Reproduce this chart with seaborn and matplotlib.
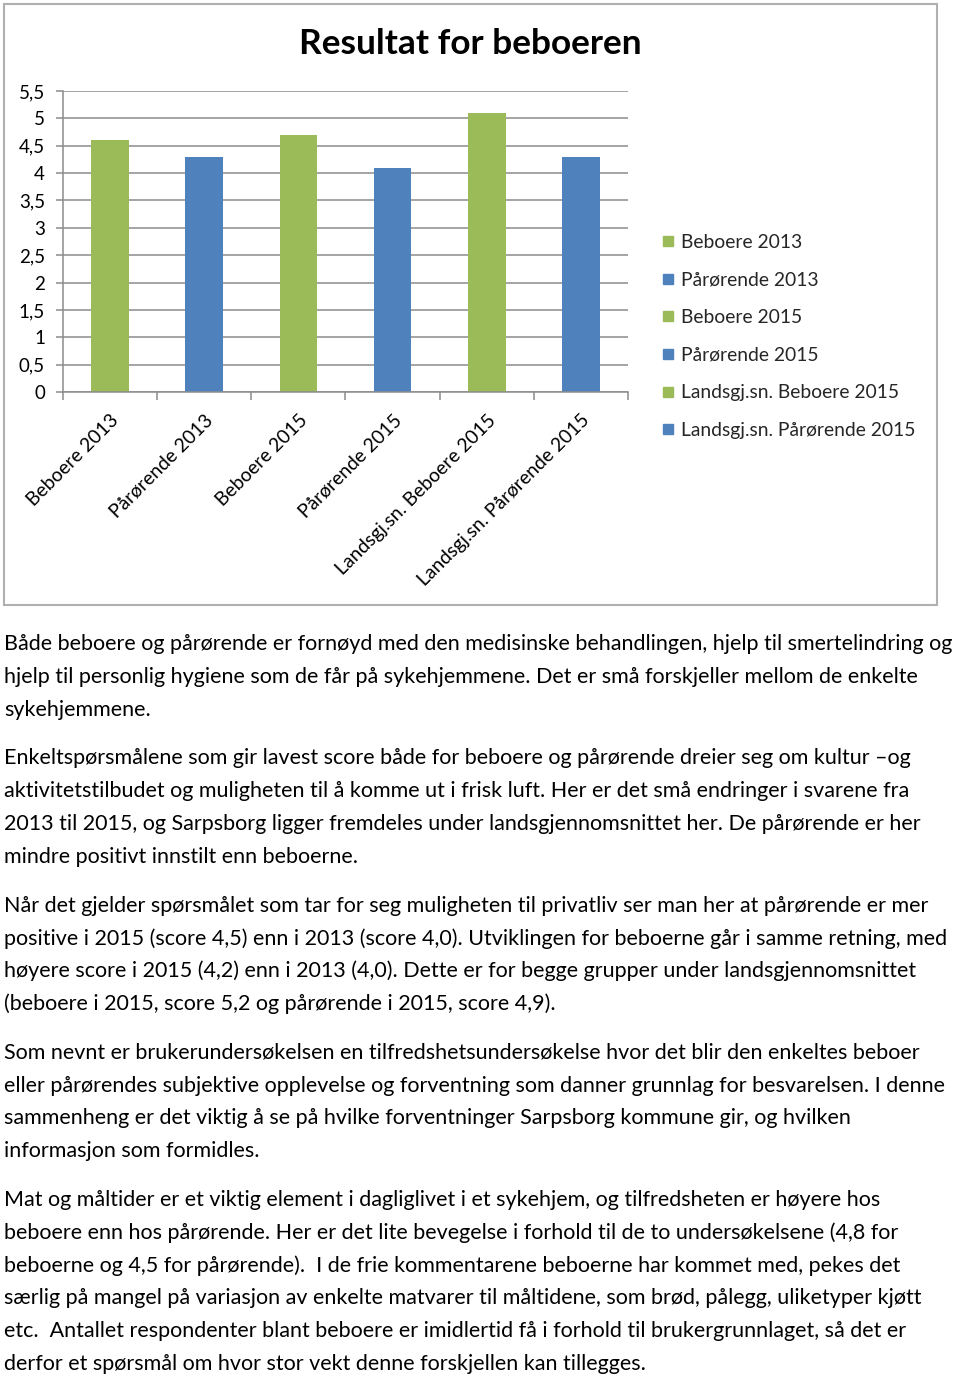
import matplotlib
matplotlib.use("Agg")
import matplotlib.pyplot as plt
import seaborn as sns
import pandas as pd
from matplotlib.patches import Rectangle
from matplotlib.lines import Line2D

categories = ["Beboere 2013", "Pårørende 2013", "Beboere 2015", "Pårørende 2015",
              "Landsgj.sn. Beboere 2015", "Landsgj.sn. Pårørende 2015"]
values = [4.6, 4.3, 4.7, 4.1, 5.1, 4.3]
colors = ["#9BBB59", "#4F81BD", "#9BBB59", "#4F81BD", "#9BBB59", "#4F81BD"]
yticks = [0, 0.5, 1, 1.5, 2, 2.5, 3, 3.5, 4, 4.5, 5, 5.5]
ytick_labels = ["0", "0,5", "1", "1,5", "2", "2,5", "3", "3,5", "4", "4,5", "5", "5,5"]
title = "Resultat for beboeren"

paragraphs = [
    ["Både beboere og pårørende er fornøyd med den medisinske behandlingen, hjelp til smertelindring og",
     "hjelp til personlig hygiene som de får på sykehjemmene. Det er små forskjeller mellom de enkelte",
     "sykehjemmene."],
    ["Enkeltspørsmålene som gir lavest score både for beboere og pårørende dreier seg om kultur –og",
     "aktivitetstilbudet og muligheten til å komme ut i frisk luft. Her er det små endringer i svarene fra",
     "2013 til 2015, og Sarpsborg ligger fremdeles under landsgjennomsnittet her. De pårørende er her",
     "mindre positivt innstilt enn beboerne."],
    ["Når det gjelder spørsmålet som tar for seg muligheten til privatliv ser man her at pårørende er mer",
     "positive i 2015 (score 4,5) enn i 2013 (score 4,0). Utviklingen for beboerne går i samme retning, med",
     "høyere score i 2015 (4,2) enn i 2013 (4,0). Dette er for begge grupper under landsgjennomsnittet",
     "(beboere i 2015, score 5,2 og pårørende i 2015, score 4,9)."],
    ["Som nevnt er brukerundersøkelsen en tilfredshetsundersøkelse hvor det blir den enkeltes beboer",
     "eller pårørendes subjektive opplevelse og forventning som danner grunnlag for besvarelsen. I denne",
     "sammenheng er det viktig å se på hvilke forventninger Sarpsborg kommune gir, og hvilken",
     "informasjon som formidles."],
    ["Mat og måltider er et viktig element i dagliglivet i et sykehjem, og tilfredsheten er høyere hos",
     "beboere enn hos pårørende. Her er det lite bevegelse i forhold til de to undersøkelsene (4,8 for",
     "beboerne og 4,5 for pårørende).  I de frie kommentarene beboerne har kommet med, pekes det",
     "særlig på mangel på variasjon av enkelte matvarer til måltidene, som brød, pålegg, uliketyper kjøtt",
     "etc.  Antallet respondenter blant beboere er imidlertid få i forhold til brukergrunnlaget, så det er",
     "derfor et spørsmål om hvor stor vekt denne forskjellen kan tillegges."],
]

sns.set_theme(style="white")
plt.rcParams["font.family"] = ["Lato", "DejaVu Sans"]

W, H = 960, 1377
fig = plt.figure(figsize=(W / 100, H / 100), dpi=100)
fig.patch.set_facecolor("white")

# chart border
fig.add_artist(Rectangle((4 / W, 1 - 605 / H), (937 - 4) / W, (605 - 4) / H,
                         transform=fig.transFigure, fill=False,
                         edgecolor="#b0b0b0", linewidth=1.5))

ax_l, ax_r, ax_t, ax_b = 63, 628, 91, 392
ax = fig.add_axes([ax_l / W, 1 - ax_b / H, (ax_r - ax_l) / W, (ax_b - ax_t) / H])

df = pd.DataFrame({"cat": categories, "val": values})
sns.barplot(data=df, x="cat", y="val", hue="cat", palette=colors, width=0.4,
            legend=False, ax=ax, saturation=1, edgecolor="none")

ax.set_ylim(0, 5.5)
ax.set_xlim(-0.5, len(categories) - 0.5)
ax.set_yticks(yticks)
ax.set_yticklabels(ytick_labels, fontsize=13.5, color="black")
ax.yaxis.grid(True, color="#8c8c8c", linewidth=1.1)
ax.set_axisbelow(True)
ax.set_xlabel("")
ax.set_ylabel("")
for s in ["top", "right"]:
    ax.spines[s].set_visible(False)
for s in ["left", "bottom"]:
    ax.spines[s].set_color("#8c8c8c")
    ax.spines[s].set_linewidth(1.1)

ax.set_xticks(range(len(categories)))
ax.set_xticklabels(categories, rotation=45, ha="right", rotation_mode="anchor",
                   fontsize=13.9, color="black")
ax.tick_params(axis="x", length=0, pad=14)
ax.tick_params(axis="y", left=True, length=5, color="#8c8c8c", width=1.1, pad=8)
# category boundary ticks
ax.set_xticks([i - 0.5 for i in range(len(categories) + 1)], minor=True)
ax.tick_params(axis="x", which="minor", bottom=True, length=6, color="#8c8c8c", width=1.1)
for lbl in ax.get_yticklabels():
    lbl.set_horizontalalignment("right")

fig.text(470 / W, 1 - 44 / H, title, ha="center", va="center",
         fontsize=25.4, fontweight="bold", color="black")

handles = [Line2D([0], [0], marker="s", linestyle="none", markersize=7.5,
                  markerfacecolor=c, markeredgecolor=c) for c in colors]
fig.legend(handles, categories, loc="upper left",
           bbox_to_anchor=(656 / W, 1 - 234 / H), frameon=False,
           fontsize=13.85, labelspacing=1.07, handletextpad=0.1, handlelength=1.2,
           borderaxespad=0, borderpad=0)

# body text
y = 644
line_h = 32.8
for p in paragraphs:
    for line in p:
        fig.text(4 / W, 1 - y / H, line, ha="left", va="center",
                 fontsize=15.5, color="black")
        y += line_h
    y += 16

fig.savefig("out.png", dpi=100, facecolor="white")
